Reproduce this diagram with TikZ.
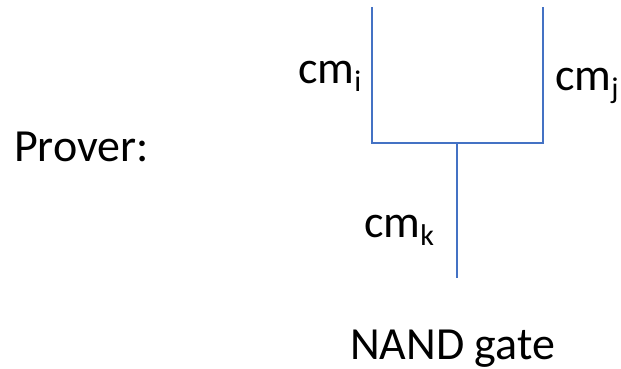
\documentclass[tikz,border=0pt]{standalone}
\usepackage{fontspec}
\setmainfont{Carlito}
\usetikzlibrary{positioning}

\definecolor{wireblue}{HTML}{4472C4}
% lowered, smaller index after a commitment name
\newcommand{\cmidx}[1]{\raisebox{-8pt}{\fontsize{30}{30}\selectfont #1}}

\begin{document}
\begin{tikzpicture}[x=1pt, y=-1pt,
txt/.style={inner sep=0pt, anchor=base west, font=\fontsize{46}{55}\selectfont},
wire/.style={draw=wireblue, line width=1.2pt}
]
\useasboundingbox (0,0) rectangle (621,369);

% ends of the gate's wires
\coordinate (in_i_top) at (372,7);
\coordinate (in_i_bot) at (372,143);
\coordinate (in_j_top) at (543,7);
\coordinate (in_j_bot) at (543,143);
\coordinate (out_top) at (457,143);
\coordinate (out_bot) at (457,278);

\node[txt](prover) at (14,161){Prover:};
\node[txt](cm_i) at (298,84){cm\cmidx{i}};
\node[txt](cm_j) at (555,90){cm\cmidx{j}};
\node[txt](cm_k) at (364,237){cm\cmidx{k}};
\node[txt](gate) at (350,359){NAND gate};

\draw[wire] (in_i_top) -- (in_i_bot) -- (in_j_bot) -- (in_j_top);
\draw[wire] (out_top) -- (out_bot);
\end{tikzpicture}
\end{document}
